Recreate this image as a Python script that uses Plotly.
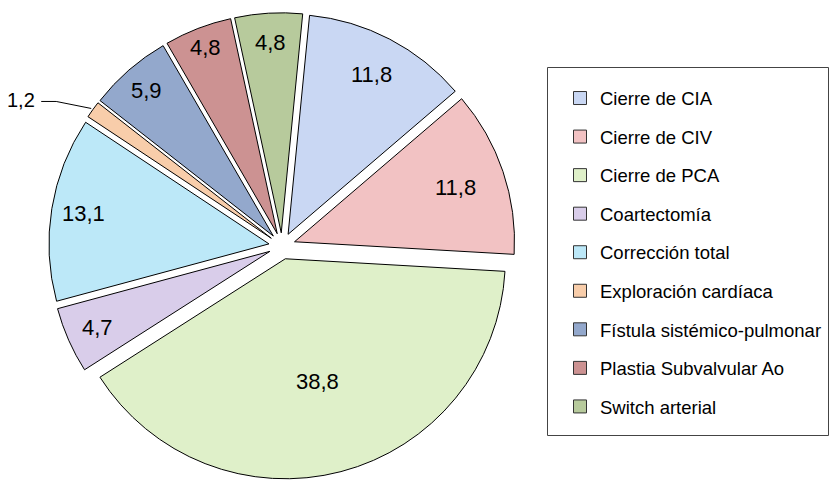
import math
import plotly.graph_objects as go

# Procedure categories and their share (%)
procedures = [
    "Cierre de CIA",
    "Cierre de CIV",
    "Cierre de PCA",
    "Coartectomía",
    "Corrección total",
    "Exploración cardíaca",
    "Fístula sistémico-pulmonar",
    "Plastia Subvalvular Ao",
    "Switch arterial",
]
shares = [11.8, 11.8, 38.8, 4.7, 13.1, 1.2, 5.9, 4.8, 4.8]

# Styling
colors = [
    "#C9D7F3", "#F2C2C3", "#DFF0C9", "#D9CDEA", "#BCE8F8",
    "#F8CDAA", "#93A8CC", "#CC9292", "#B7CA9C",
]
# radial placement of each value label, as a fraction of the radius
label_r = [0.82, 0.77, 0.575, 0.855, 0.855, None, 0.875, 0.905, 0.865]

W, H = 829, 480
CX, CY, R = 282, 246, 220     # pie centre and radius, pixels
PULL = 0.06
ROTATION = 5.6
FONT = "Liberation Sans, Arial, sans-serif"
outside_idx = procedures.index("Exploración cardíaca")

box = 2 * R * (1 + PULL)
dom_x = [(CX - box / 2) / W, (CX + box / 2) / W]
dom_y = [1 - (CY + box / 2) / H, 1 - (CY - box / 2) / H]

fig = go.Figure()
fig.add_trace(go.Pie(
    labels=procedures,
    values=shares,
    sort=False,
    direction="clockwise",
    rotation=ROTATION,
    pull=PULL,
    marker=dict(colors=colors, line=dict(color="#000000", width=1)),
    textinfo="none",
    domain=dict(x=dom_x, y=dom_y),
    showlegend=False,
    hoverinfo="label+value",
))

# Legend entries as square swatches, one group each so they can be spaced out
for name, col in zip(procedures, colors):
    fig.add_trace(go.Scatter(
        x=[None], y=[None], mode="markers", name=name, legendgroup=name,
        marker=dict(symbol="square", size=13, color=col,
                    line=dict(color="#333333", width=1)),
    ))


def px(x, y):
    return x / W, 1 - y / H


def fmt(v):
    return f"{v:.1f}".replace(".", ",")


total = sum(shares)
annotations = []
mids = []
cum = 0.0
for v in shares:
    mids.append(math.radians(ROTATION + 360 * (cum + v / 2) / total))
    cum += v

# Value labels inside the slices
for i, v in enumerate(shares):
    if label_r[i] is None:
        continue
    a = mids[i]
    rr = R * (PULL + label_r[i])
    x, y = px(CX + rr * math.sin(a), CY - rr * math.cos(a))
    annotations.append(dict(
        x=x, y=y, xref="paper", yref="paper", text=fmt(v), showarrow=False,
        xanchor="center", yanchor="middle",
        font=dict(family=FONT, size=22, color="#000000"),
    ))

# Leader line and label for the smallest slice
a = mids[outside_idx]
r_tip = R * (1 + PULL) + 2
tip = (CX + r_tip * math.sin(a), CY - r_tip * math.cos(a))
elbow = (tip[0] - 35, tip[1] - 7)
tail = (elbow[0] - 15, elbow[1])
p_tip, p_elbow, p_tail = px(*tip), px(*elbow), px(*tail)
lx, ly = px(tail[0] - 4, tail[1] - 1)
annotations.append(dict(
    x=lx, y=ly, xref="paper", yref="paper", text=fmt(shares[outside_idx]),
    showarrow=False, xanchor="right", yanchor="middle",
    font=dict(family=FONT, size=20, color="#000000"),
))

shapes = [
    dict(type="path", xref="paper", yref="paper",
         path=f"M{p_tail[0]},{p_tail[1]} L{p_elbow[0]},{p_elbow[1]} L{p_tip[0]},{p_tip[1]}",
         line=dict(color="#000000", width=1)),
    dict(type="rect", xref="paper", yref="paper",
         x0=547.5 / W, x1=828.5 / W, y0=1 - 435.5 / H, y1=1 - 67.5 / H,
         line=dict(color="#444444", width=1)),
]

fig.update_layout(
    width=W, height=H,
    margin=dict(l=0, r=0, t=0, b=0),
    paper_bgcolor="#FFFFFF", plot_bgcolor="#FFFFFF",
    xaxis=dict(visible=False), yaxis=dict(visible=False),
    shapes=shapes,
    annotations=annotations,
    legend=dict(
        x=560 / W, y=1 - 79.5 / H, xanchor="left", yanchor="top",
        bgcolor="rgba(0,0,0,0)", borderwidth=0,
        tracegroupgap=11.5, traceorder="grouped",
        font=dict(family=FONT, size=18.5, color="#000000"),
    ),
)

fig.write_html("out.html")
